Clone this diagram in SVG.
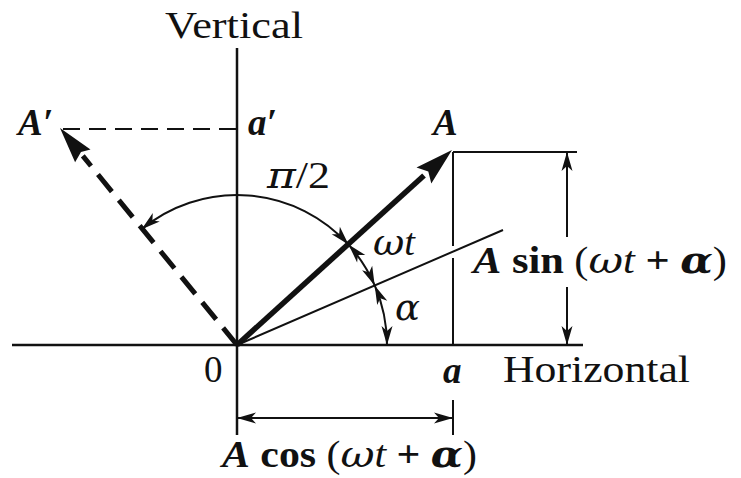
<svg xmlns="http://www.w3.org/2000/svg" width="741" height="478" viewBox="0 0 741 478">
<style>
text{font-family:"Liberation Serif","Times New Roman",serif;font-size:37px;fill:#111}
.bi{font-weight:bold;font-style:italic}
.b{font-weight:bold}
.i{font-style:italic}
.g{font-family:"DejaVu Serif","Liberation Serif",serif;font-style:italic}
.gb{font-family:"DejaVu Serif","Liberation Serif",serif;font-style:italic;font-weight:bold}
.ln{stroke:#111;fill:none;stroke-width:2.5}
.thin{stroke:#111;fill:none;stroke-width:2}
</style>
<defs>
<marker id="ah" markerUnits="userSpaceOnUse" markerWidth="24" markerHeight="14" viewBox="-20 -7 24 14" refX="0" refY="0" orient="auto-start-reverse">
<path d="M0,0 L-19,-5.5 L-14,0 L-19,5.5 Z" fill="#111"/>
</marker>
</defs>
<g id="axes">
<path class="ln" d="M12,345 H583"/>
<path class="ln" d="M237,48 V435"/>
</g>
<g id="projection-lines">
<path class="thin" d="M453,152 V246 M453,258 V345 M453,400 V435"/>
<path class="thin" d="M453,152 H577"/>
<path class="thin" d="M63,129 H237" stroke-dasharray="17 9"/>
</g>
<g id="vector-A">
<path d="M237,345 L424,175.5" stroke="#111" stroke-width="5.5" fill="none"/>
<polygon points="452,150 416.5,167.4 428.3,171.5 431.3,183.6" fill="#111"/>
</g>
<g id="vector-A-prime">
<path d="M237,345 L82.8,155.9" stroke="#111" stroke-width="5" fill="none" stroke-dasharray="22 11"/>
<polygon points="60,128 90.5,149.6 81,152 75.1,162.2" fill="#111"/>
</g>
<g id="reference-line">
<path class="thin" d="M237,345 L503,230"/>
</g>
<g id="connectors">
<path class="thin" d="M141.6,229.3 A150,150 0 0 1 348.5,244.6" marker-start="url(#ah)" marker-end="url(#ah)"/>
<path class="thin" d="M348.5,244.6 A150,150 0 0 1 374.7,285.4" marker-start="url(#ah)" marker-end="url(#ah)"/>
<path class="thin" d="M374.7,285.4 A150,150 0 0 1 387,345" marker-start="url(#ah)" marker-end="url(#ah)"/>
<path class="thin" d="M237,418 H453" marker-start="url(#ah)" marker-end="url(#ah)"/>
<path class="thin" d="M567,237 V152" marker-end="url(#ah)"/>
<path class="thin" d="M567,287 V345" marker-end="url(#ah)"/>
</g>
<g id="labels">
<text x="165" y="38" textLength="138" lengthAdjust="spacingAndGlyphs">Vertical</text>
<text x="503" y="382" textLength="187" lengthAdjust="spacingAndGlyphs">Horizontal</text>
<text x="18" y="135" class="bi">A′</text>
<text x="248" y="135" class="bi">a′</text>
<text x="433" y="135" class="bi">A</text>
<text x="267" y="188" textLength="63" lengthAdjust="spacingAndGlyphs"><tspan class="g">π</tspan>/2</text>
<text x="373" y="255" textLength="42" lengthAdjust="spacingAndGlyphs"><tspan class="g">ω</tspan><tspan class="i">t</tspan></text>
<text x="395" y="320" class="g" font-size="34">α</text>
<text x="204" y="382">0</text>
<text x="443" y="383" class="bi">a</text>
<text x="473" y="273" textLength="254" lengthAdjust="spacingAndGlyphs"><tspan class="bi">A</tspan><tspan class="b"> sin </tspan>(<tspan class="g">ω</tspan><tspan class="i">t</tspan><tspan class="b"> + </tspan><tspan class="gb">α</tspan>)</text>
<text x="222" y="467" font-size="35" textLength="255" lengthAdjust="spacingAndGlyphs"><tspan class="bi">A</tspan><tspan class="b"> cos </tspan>(<tspan class="g">ω</tspan><tspan class="i">t</tspan><tspan class="b"> + </tspan><tspan class="gb">α</tspan>)</text>
</g>
</svg>
